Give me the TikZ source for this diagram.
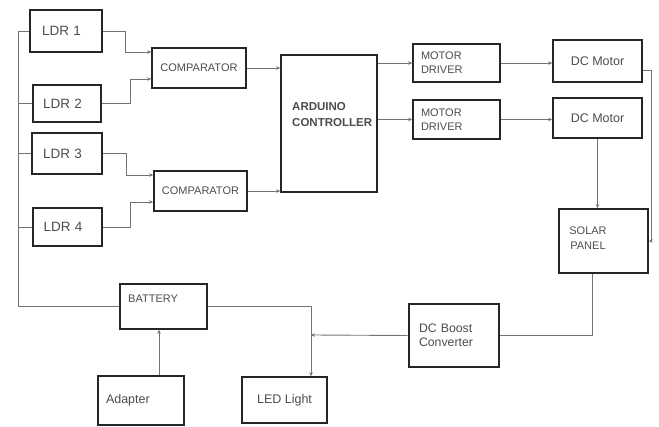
\documentclass[tikz,border=0pt]{standalone}
\usepackage{fontspec}
\setmainfont{Liberation Sans}
\usetikzlibrary{arrows.meta}

\begin{document}
\begin{tikzpicture}[x=1pt,y=-1pt,
  blk/.style={draw=black!85,line width=1.5pt,rectangle,inner sep=0pt,text=black!70,font=\fontsize{12.5}{14}\selectfont},
  ldr/.style={blk,text width=48pt,align=left,font=\fontsize{13.5}{15}\selectfont},
  cmp/.style={blk,font=\fontsize{11}{14}\selectfont},
  lbl/.style={text=black!70,inner sep=0pt,font=\fontsize{11}{15}\selectfont},
  wire/.style={draw=black!55,line width=0.9pt},
  arr/.style={wire,-{Stealth[length=4pt,width=3.5pt]}}]
\useasboundingbox (0,0) rectangle (659,427);

% sensors and comparators
\node[ldr,minimum width=72pt,minimum height=42pt] (ldr1) at (66,31) {LDR 1};
\node[ldr,minimum width=68pt,minimum height=37pt] (ldr2) at (67,103.5) {LDR 2};
\node[ldr,minimum width=70pt,minimum height=41pt] (ldr3) at (67,153.5) {LDR 3};
\node[ldr,minimum width=69pt,minimum height=38pt] (ldr4) at (67.5,227) {LDR 4};
\node[cmp,minimum width=94pt,minimum height=40pt] (comp1) at (199,68) {COMPARATOR};
\node[cmp,minimum width=93pt,minimum height=40pt] (comp2) at (200.5,191) {COMPARATOR};

% controller and motors
\node[blk,minimum width=96pt,minimum height=137pt] (ard) at (329,123.5) {};
\node[lbl,anchor=west,align=left,font=\bfseries\fontsize{11.5}{16}\selectfont] (ardtxt) at (292,115) {ARDUINO\\CONTROLLER};
\node[cmp,minimum width=87pt,minimum height=38pt,text width=71pt,align=left] (md1) at (456.5,63) {MOTOR\\DRIVER};
\node[cmp,minimum width=87pt,minimum height=39pt,text width=71pt,align=left] (md2) at (456.5,119.5) {MOTOR\\DRIVER};
\node[blk,minimum width=89pt,minimum height=42pt] (dcm1) at (597.5,61) {DC Motor};
\node[blk,minimum width=89pt,minimum height=40pt] (dcm2) at (597.5,118) {DC Motor};
\node[blk,minimum width=89pt,minimum height=64pt] (solar) at (603.5,241) {};
\node[lbl,align=center] (soltxt) at (588,238.5) {SOLAR\\PANEL};

% power part
\node[blk,line width=2.6pt,minimum width=90pt,minimum height=63pt,text width=70pt,align=left,font=\fontsize{12.3}{14}\selectfont] (boost) at (454,335.5) {DC Boost\\Converter};
\node[blk,minimum width=87pt,minimum height=45pt] (battery) at (163.5,306.5) {};
\node[lbl,anchor=west] (battxt) at (128,299) {BATTERY};
\node[blk,minimum width=86pt,minimum height=49pt,text width=70pt,align=left] (adapter) at (141,400.5) {Adapter};
\node[blk,minimum width=85pt,minimum height=46pt] (led) at (284.5,400) {LED Light};

% wiring
\coordinate (bus) at (18,31);
\draw[wire] (ldr1.west) -- (bus) |- (battery.west);
\foreach \n in {ldr2,ldr3,ldr4}
  \draw[wire] (\n.west) -- (\n.west -| bus);

\draw[arr] (ldr1.east) -- ++(23,0) |- ([yshift=16pt]comp1.west);
\draw[arr] (ldr2.east) -- ++(29,0) |- ([yshift=-11pt]comp1.west);
\draw[arr] (ldr3.east) -- ++(24,0) |- ([yshift=16pt]comp2.west);
\draw[arr] (ldr4.east) -- ++(28,0) |- ([yshift=-11pt]comp2.west);

\draw[arr] (comp1.east) -- (comp1.east -| ard.west);
\draw[arr] (comp2.east) -- (comp2.east -| ard.west);
\draw[arr] (ard.east |- md1.west) -- (md1.west);
\draw[arr] (ard.east |- md2.west) -- (md2.west);
\draw[arr] (md1.east) -- (md1.east -| dcm1.west);
\draw[arr] (md2.east) -- (md2.east -| dcm2.west);
\draw[arr] ([yshift=-9pt]dcm1.east) -- ++(9,0) |- (solar.east);
\draw[arr] (dcm2.south) -- (dcm2.south |- solar.north);

\draw[wire] ([xshift=-11pt]solar.south) |- (boost.east);
\coordinate (jn) at (311,335);
\draw[arr] (boost.west) -- (jn);
\draw[wire] (battery.east) -| (jn);
\draw[arr] (jn) -- (jn |- led.north);
\draw[arr] ([xshift=18pt]adapter.north) -- ([xshift=18pt]adapter.north |- battery.south);

\end{tikzpicture}
\end{document}
